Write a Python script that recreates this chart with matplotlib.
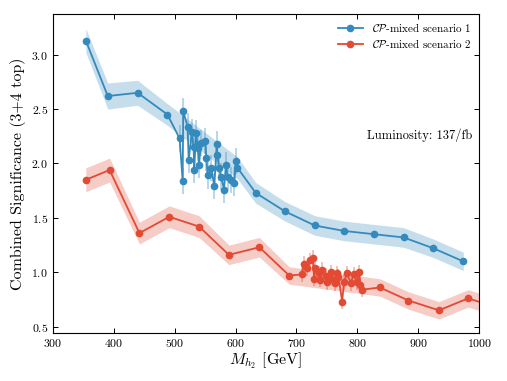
import numpy as np
import matplotlib
matplotlib.use("Agg")
import matplotlib.pyplot as plt

plt.rcParams["font.family"] = "serif"
plt.rcParams["font.serif"] = ["cmr10"]
plt.rcParams["mathtext.fontset"] = "cm"
plt.rcParams["axes.formatter.use_mathtext"] = True

# scenario 1: coarse mass scan with band, plus dense scan
s1_mass = [354, 390, 439, 488, 603, 633, 681, 730, 778, 827, 876, 925, 974]
s1_sig = [3.13, 2.62, 2.65, 2.45, 1.96, 1.73, 1.56, 1.43, 1.38, 1.35, 1.32, 1.22, 1.10]
s1_err = [0.11, 0.12, 0.115, 0.10, 0.10, 0.095, 0.09, 0.09, 0.09, 0.09, 0.09, 0.085, 0.085]

s1_fine_mass = [508, 513, 514, 521, 523, 528, 531, 532, 535, 538, 540, 543, 550, 552,
                554, 560, 565, 569, 570, 573, 576, 581, 584, 587, 592, 598, 600]
s1_fine_sig = [2.23, 1.84, 2.48, 2.34, 2.03, 2.29, 2.15, 1.94, 2.28, 2.14, 1.99, 2.19, 2.21, 2.05,
               1.89, 1.96, 1.79, 2.18, 2.08, 1.96, 1.88, 1.76, 1.99, 1.88, 1.85, 1.82, 2.02]
s1_fine_err = 0.12

# scenario 2
s2_mass = [354, 393, 442, 491, 540, 589, 639, 688, 837, 884, 934, 982, 1033]
s2_sig = [1.85, 1.94, 1.36, 1.51, 1.42, 1.16, 1.23, 0.97, 0.86, 0.74, 0.65, 0.76, 0.67]
s2_err = [0.11, 0.11, 0.10, 0.10, 0.10, 0.09, 0.09, 0.08, 0.08, 0.08, 0.08, 0.08, 0.08]

s2_fine_mass = [709, 712, 718, 723, 727, 729, 731, 737, 739, 742, 748, 750, 756, 758,
                764, 766, 769, 775, 778, 783, 789, 794, 799, 803, 805, 808]
s2_fine_sig = [0.98, 1.08, 1.04, 1.11, 1.13, 0.94, 1.04, 0.99, 0.93, 1.02, 0.97, 0.91, 1.00, 0.94,
               0.90, 0.99, 0.96, 0.73, 0.91, 0.99, 0.90, 0.98, 0.91, 1.00, 0.88, 0.84]
s2_fine_err = 0.07

labels = [r"$\mathcal{CP}$-mixed scenario 1", r"$\mathcal{CP}$-mixed scenario 2"]
colors = ["#348ABD", "#E24A33"]

fig = plt.figure(figsize=(5.07, 3.81), dpi=100)
ax = fig.add_axes([0.1045, 0.127, 0.8405, 0.835])

series = [
    (s1_mass, s1_sig, s1_err, s1_fine_mass, s1_fine_sig, s1_fine_err),
    (s2_mass, s2_sig, s2_err, s2_fine_mass, s2_fine_sig, s2_fine_err),
]

for (m, s, e, fm, fs, fe), lab, c in zip(series, labels, colors):
    m = np.array(m)
    s = np.array(s)
    e = np.array(e)
    ax.fill_between(m, s - e, s + e, color=c, alpha=0.28, linewidth=0)
    ax.errorbar(fm, fs, yerr=fe, fmt="none", ecolor=c, alpha=0.35, elinewidth=1.4)
    # merge coarse and fine scans into one line
    allm = np.concatenate([m, fm])
    alls = np.concatenate([s, fs])
    order = np.argsort(allm, kind="stable")
    ax.plot(allm[order], alls[order], "-o", color=c, linewidth=1.3,
            markersize=4.5, label=lab)

ax.set_xlim(300, 1000)
ax.set_ylim(0.445, 3.37)
ax.set_xticks(np.arange(300, 1001, 100))
ax.set_yticks(np.arange(0.5, 3.01, 0.5))
ax.tick_params(direction="in", top=True, right=True, labelsize=8.5, length=3.5, width=0.7)
for sp in ax.spines.values():
    sp.set_linewidth(0.8)

ax.set_xlabel(r"$M_{h_2}$ [GeV]", fontsize=11.5, labelpad=1)
ax.set_ylabel("Combined Significance (3+4 top)", fontsize=11.5, labelpad=4)

ax.text(0.984, 0.62, "Luminosity: 137/fb", transform=ax.transAxes,
        ha="right", va="center", fontsize=9)

ax.legend(loc="upper right", frameon=False, fontsize=8, handlelength=2.2,
          borderaxespad=0.3, labelspacing=0.3)

fig.savefig("out.png", dpi=100)
